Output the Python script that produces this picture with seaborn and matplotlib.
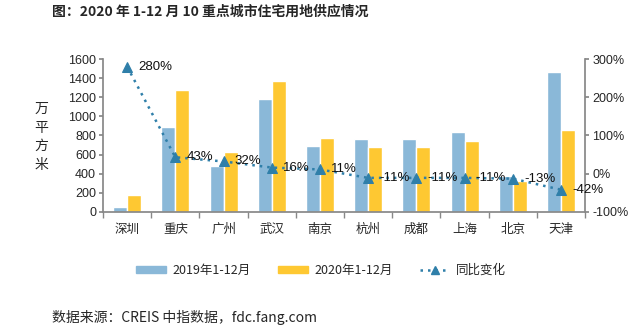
import matplotlib
matplotlib.use("Agg")
import matplotlib.pyplot as plt
import seaborn as sns
import pandas as pd
from matplotlib.patches import Patch
from matplotlib.lines import Line2D
from matplotlib.ticker import FuncFormatter

cities = ["深圳", "重庆", "广州", "武汉", "南京", "杭州", "成都", "上海", "北京", "天津"]
supply_2019 = [48, 890, 477, 1180, 693, 759, 763, 840, 372, 1464]
supply_2020 = [178, 1272, 623, 1366, 770, 680, 680, 746, 327, 857]
yoy_pct = [280, 43, 32, 16, 11, -11, -11, -11, -13, -42]
series_names = ["2019年1-12月", "2020年1-12月"]
line_name = "同比变化"

sns.set_theme(style="white")
plt.rcParams['font.family'] = ['Noto Sans CJK SC', 'DejaVu Sans']
plt.rcParams['axes.unicode_minus'] = False

blue = "#8ab8d8"
yellow = "#fec832"
line_c = "#2f7fa9"

df = pd.DataFrame({
    "city": cities * 2,
    "value": supply_2019 + supply_2020,
    "series": [series_names[0]] * len(cities) + [series_names[1]] * len(cities),
})

fig = plt.figure(figsize=(6.36, 3.26), dpi=100)
ax = fig.add_axes([0.162, 0.350, 0.758, 0.469])
sns.barplot(data=df, x="city", y="value", hue="series", palette=[blue, yellow],
            width=0.58, ax=ax, legend=False, saturation=1)
ax.set_ylim(0, 1600)
ax.set_yticks(range(0, 1601, 200))
ax.set_xlim(-0.5, len(cities) - 0.5)
ax.set_xlabel("")
ax.set_ylabel("")
for s in ["top", "right"]:
    ax.spines[s].set_visible(False)
ax.spines["left"].set_color("#888888")
ax.spines["bottom"].set_color("#888888")
ax.tick_params(axis="y", labelsize=9, length=3, color="#888888", left=True, pad=2)
ax.tick_params(axis="x", labelsize=9, length=0, pad=8)
# boundary ticks on the x-axis
ax.set_xticks([i - 0.5 for i in range(len(cities) + 1)], minor=True)
ax.tick_params(axis="x", which="minor", length=4, color="#888888", bottom=True, direction="out")

ax2 = ax.twinx()
xs = list(range(len(cities)))
sns.lineplot(x=xs, y=yoy_pct, ax=ax2, color=line_c, linestyle=(0, (1, 2)), linewidth=1.8,
             marker="^", markersize=7, markeredgecolor=line_c, legend=False)
ax2.set_ylim(-100, 300)
ax2.set_yticks(range(-100, 301, 100))
ax2.yaxis.set_major_formatter(FuncFormatter(lambda v, p: f"{int(v)}%"))
for s in ["top", "left", "bottom"]:
    ax2.spines[s].set_visible(False)
ax2.spines["right"].set_color("#888888")
ax2.tick_params(axis="y", labelsize=9, length=3, color="#888888", right=True, pad=2)
ax2.set_ylabel("")
ax2.grid(False)
ax.grid(False)

for x, v in zip(xs, yoy_pct):
    ax2.annotate(f"{v}%", (x, v), xytext=(8, 0), textcoords="offset points",
                 ha="left", va="center", fontsize=9.5, color="#111111",
                 family=["Liberation Sans", "DejaVu Sans"])

for t in ax.get_yticklabels() + ax2.get_yticklabels():
    t.set_family(["Liberation Sans", "DejaVu Sans"])

fig.text(0.082, 0.963, "图：2020 年 1-12 月 10 重点城市住宅用地供应情况", fontsize=10,
         fontweight="bold", ha="left", va="center")
fig.text(0.065, 0.58, "万\n平\n方\n米", fontsize=10, ha="center", va="center",
         linespacing=1.4)
fig.text(0.082, 0.025, "数据来源：CREIS 中指数据，fdc.fang.com", fontsize=10,
         ha="left", va="center")

handles = [Patch(color=blue, label=series_names[0]),
           Patch(color=yellow, label=series_names[1]),
           Line2D([], [], color=line_c, linestyle=(0, (1, 2)), linewidth=1.8, marker="^",
                  markersize=6, label=line_name)]
fig.legend(handles=handles, loc="center", bbox_to_anchor=(0.505, 0.17), ncol=3,
           frameon=False, fontsize=9, handlelength=2.4, handleheight=0.5,
           columnspacing=2.2, handletextpad=0.5)

fig.savefig("out.png", dpi=100)
